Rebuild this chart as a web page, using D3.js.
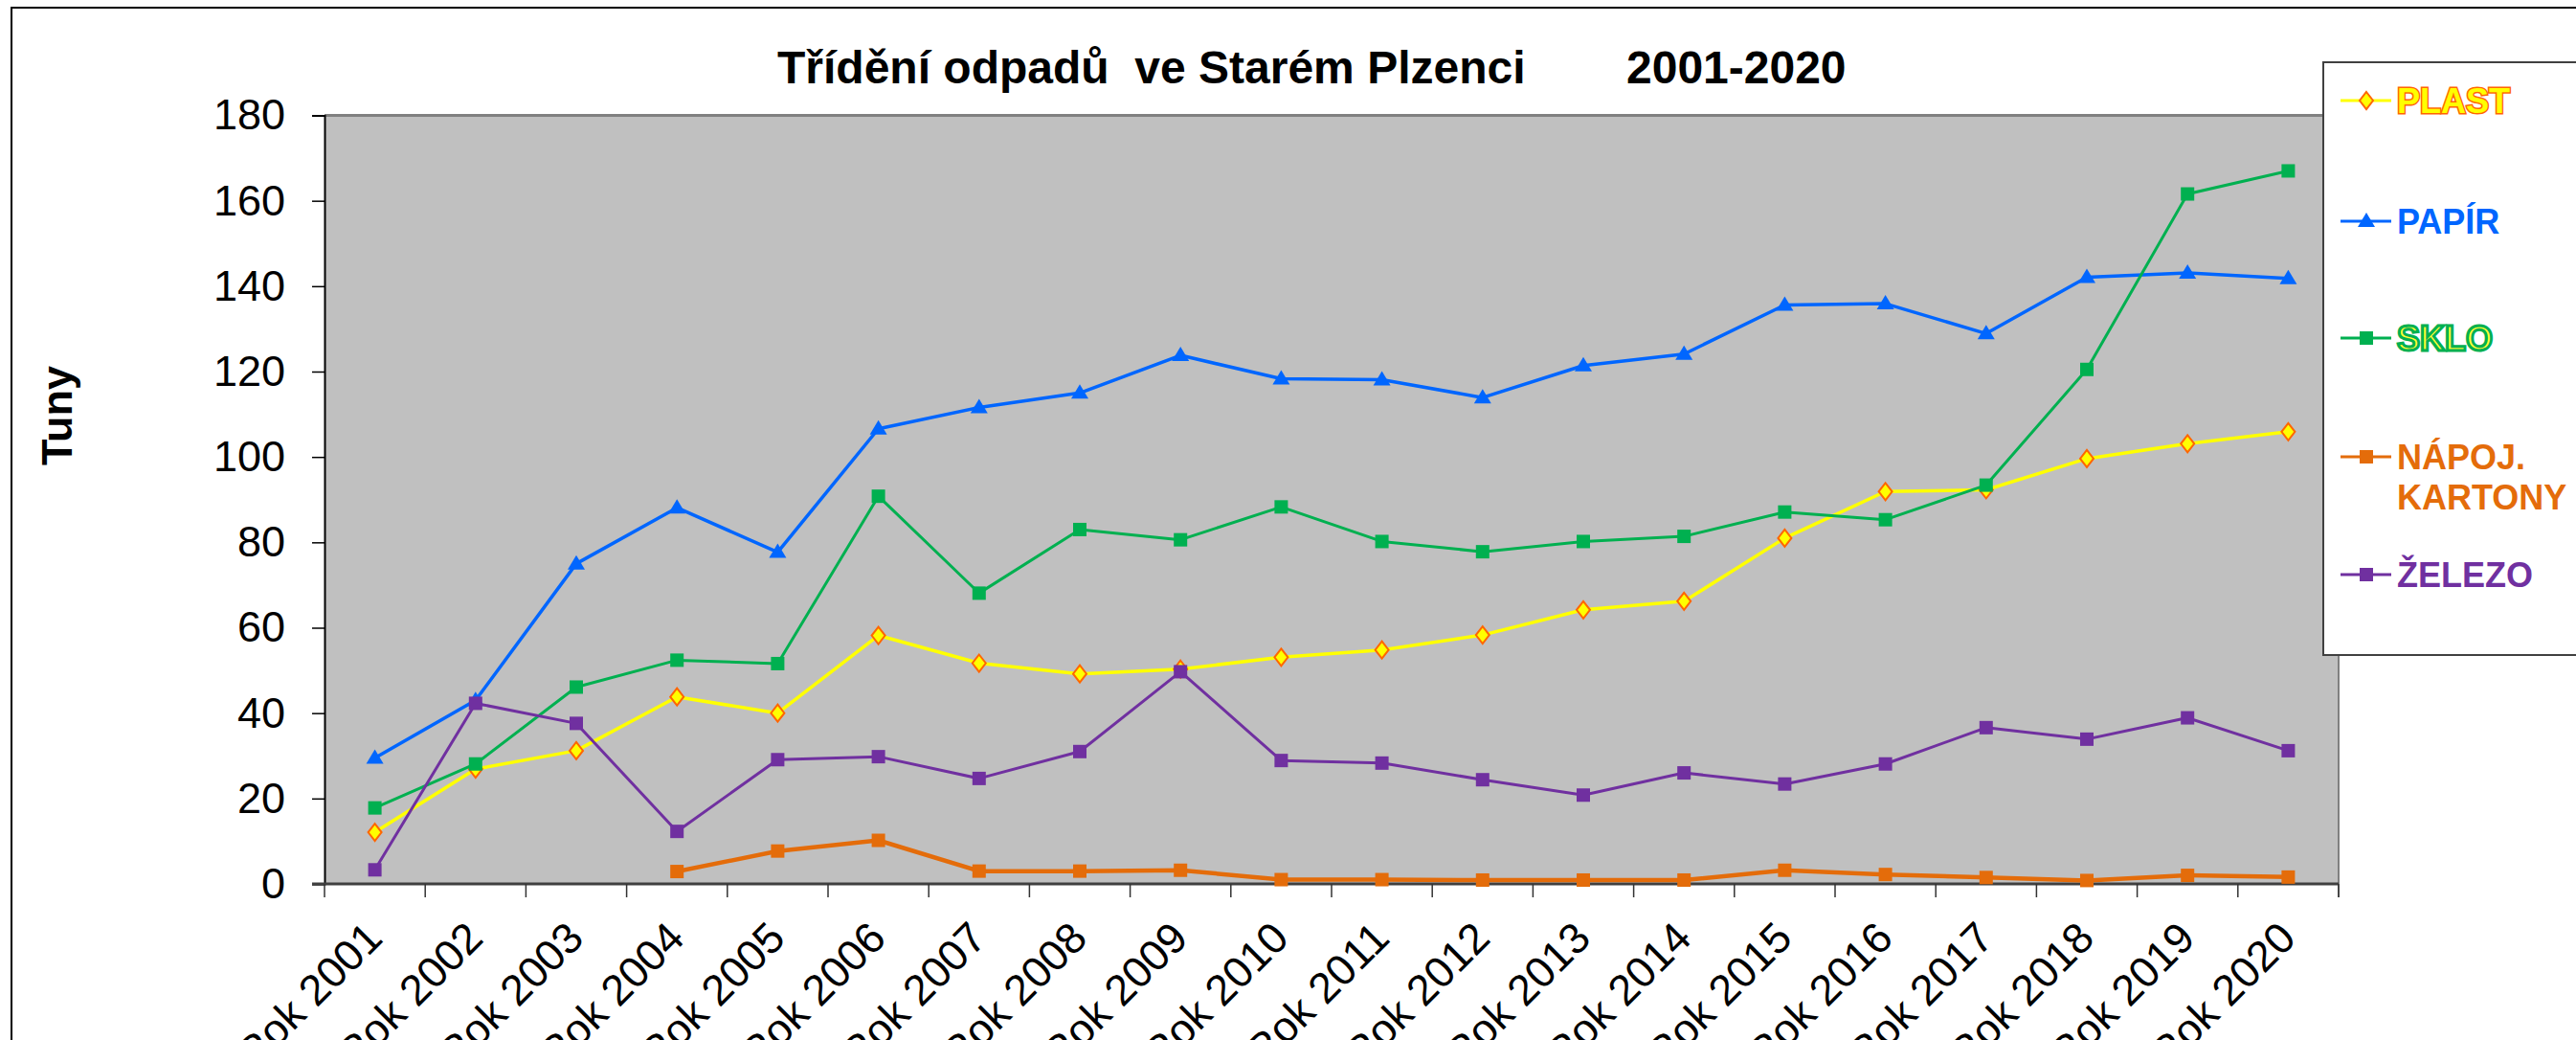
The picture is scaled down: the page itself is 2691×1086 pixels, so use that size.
<!DOCTYPE html>
<html>
<head>
<meta charset="utf-8">
<script src="https://cdn.jsdelivr.net/npm/d3@7"></script>
<style>
  body { margin: 0; background: #fff; }
  svg { display: block; }
  text { font-family: "Liberation Sans", Arial, sans-serif; }
</style>
</head>
<body>
<div id="chart"></div>
<script>
// categories
const years = ["Rok 2001", "Rok 2002", "Rok 2003", "Rok 2004", "Rok 2005",
  "Rok 2006", "Rok 2007", "Rok 2008", "Rok 2009", "Rok 2010",
  "Rok 2011", "Rok 2012", "Rok 2013", "Rok 2014", "Rok 2015",
  "Rok 2016", "Rok 2017", "Rok 2018", "Rok 2019", "Rok 2020"];

// series values (tuny)
const plast  = [12.1, 26.9, 31.2, 43.8, 40.0, 58.2, 51.7, 49.2, 50.3, 53.1,
                54.8, 58.3, 64.2, 66.2, 81.0, 91.9, 92.3, 99.6, 103.1, 105.9];
const papir  = [29.5, 43.0, 75.0, 88.1, 77.7, 106.6, 111.6, 115.0, 123.8, 118.3,
                118.1, 113.9, 121.4, 124.1, 135.6, 135.9, 128.9, 142.1, 143.1, 141.8];
const sklo   = [17.8, 28.1, 46.1, 52.4, 51.6, 90.8, 68.1, 83.0, 80.6, 88.3,
                80.2, 77.8, 80.2, 81.4, 87.1, 85.3, 93.4, 120.5, 161.6, 167.0];
const napoj  = [null, null, null, 2.9, 7.7, 10.2, 3.0, 3.0, 3.2, 1.0,
                1.0, 0.9, 0.9, 0.9, 3.2, 2.2, 1.5, 0.8, 2.0, 1.6];
const zelezo = [3.3, 42.3, 37.6, 12.3, 29.1, 29.8, 24.7, 31.0, 49.7, 28.9,
                28.3, 24.4, 20.8, 26.0, 23.4, 28.1, 36.6, 33.9, 38.9, 31.2];

const yTicks = [0, 20, 40, 60, 80, 100, 120, 140, 160, 180];

const series = [
  { name: ["PLAST"], values: plast, color: "#FFFF00", width: 3.5, marker: "diamond" },
  { name: ["PAPÍR"], values: papir, color: "#0066FF", width: 3.5, marker: "triangle" },
  { name: ["SKLO"], values: sklo, color: "#00B050", width: 3, marker: "square" },
  { name: ["NÁPOJ.", "KARTONY"], values: napoj, color: "#E46C0A", width: 4.5, marker: "square" },
  { name: ["ŽELEZO"], values: zelezo, color: "#7030A0", width: 3, marker: "square" }
];

const W = 2691, H = 1086;
const plot = { left: 339, right: 2443, top: 120.5, bottom: 923 };

const svg = d3.select("#chart").append("svg")
  .attr("width", W)
  .attr("height", H);

// outer chart frame
svg.append("rect")
  .attr("x", 12).attr("y", 8)
  .attr("width", W + 20).attr("height", H + 40)
  .attr("fill", "#fff")
  .attr("stroke", "#000")
  .attr("stroke-width", 2);

const x = d3.scaleBand()
  .domain(years)
  .range([plot.left, plot.right]);

const y = d3.scaleLinear()
  .domain([0, 180])
  .range([plot.bottom, plot.top]);

// plot area
svg.append("rect")
  .attr("x", plot.left).attr("y", plot.top)
  .attr("width", plot.right - plot.left)
  .attr("height", plot.bottom - plot.top)
  .attr("fill", "#C0C0C0");

svg.append("line")
  .attr("x1", plot.left).attr("x2", plot.right)
  .attr("y1", plot.top).attr("y2", plot.top)
  .attr("stroke", "#808080").attr("stroke-width", 3);

svg.append("line")
  .attr("x1", plot.right).attr("x2", plot.right)
  .attr("y1", plot.top).attr("y2", plot.bottom + 14)
  .attr("stroke", "#808080").attr("stroke-width", 2);

// y axis
const yAxis = svg.append("g")
  .attr("transform", `translate(${plot.left},0)`)
  .call(d3.axisLeft(y).tickValues(yTicks).tickSize(13).tickPadding(28));
yAxis.select(".domain").attr("stroke", "#000").attr("stroke-width", 2);
yAxis.selectAll(".tick line").attr("stroke", "#000").attr("stroke-width", 1.5);
yAxis.selectAll(".tick text")
  .attr("font-family", "'Liberation Sans', Arial, sans-serif")
  .attr("font-size", 45)
  .attr("fill", "#000");

// x axis: baseline, ticks between categories, rotated labels
svg.append("line")
  .attr("x1", plot.left - 13).attr("x2", plot.right)
  .attr("y1", plot.bottom).attr("y2", plot.bottom)
  .attr("stroke", "#404040").attr("stroke-width", 3);

const edges = years.map(d => x(d)).concat([x.range()[1]]);
svg.append("g").selectAll("line")
  .data(edges)
  .enter()
  .append("line")
  .attr("x1", d => d).attr("x2", d => d)
  .attr("y1", plot.bottom).attr("y2", plot.bottom + 14)
  .attr("stroke", "#333").attr("stroke-width", 1.5);

svg.append("g").selectAll("text")
  .data(years)
  .enter()
  .append("text")
  .attr("transform", d => `translate(${x(d) + x.bandwidth() / 2 + 10},982) rotate(-45)`)
  .attr("text-anchor", "end")
  .attr("font-size", 45)
  .attr("fill", "#000")
  .text(d => d);

// title
svg.append("text")
  .attr("x", 812).attr("y", 87)
  .attr("font-size", 48).attr("font-weight", "bold")
  .text("Třídění odpadů  ve Starém Plzenci")
  .attr("xml:space", "preserve")
  .style("white-space", "pre");
svg.append("text")
  .attr("x", 1699).attr("y", 87)
  .attr("font-size", 48).attr("font-weight", "bold")
  .text("2001-2020");

// y axis title
svg.append("text")
  .attr("transform", "translate(75,434) rotate(-90)")
  .attr("text-anchor", "middle")
  .attr("font-size", 45).attr("font-weight", "bold")
  .text("Tuny");

// markers
function drawMarker(g, type, color, cx, cy) {
  if (type === "diamond") {
    g.append("path")
      .attr("d", `M${cx},${cy - 9}L${cx + 7},${cy}L${cx},${cy + 9}L${cx - 7},${cy}Z`)
      .attr("fill", "#FFFF00").attr("stroke", "#FF6600").attr("stroke-width", 2);
  } else if (type === "triangle") {
    g.append("path")
      .attr("d", `M${cx},${cy - 9}L${cx + 9},${cy + 6}L${cx - 9},${cy + 6}Z`)
      .attr("fill", color);
  } else {
    g.append("rect")
      .attr("x", cx - 7).attr("y", cy - 7)
      .attr("width", 14).attr("height", 14)
      .attr("fill", color);
  }
}

const line = d3.line()
  .defined(d => d.v != null)
  .x(d => x(d.cat) + x.bandwidth() / 2)
  .y(d => y(d.v));

series.forEach(s => {
  const pts = s.values.map((v, i) => ({ cat: years[i], v: v }));
  const g = svg.append("g");
  g.append("path")
    .datum(pts)
    .attr("d", line)
    .attr("fill", "none")
    .attr("stroke", s.color)
    .attr("stroke-width", s.width)
    .attr("stroke-linejoin", "round");
  pts.filter(p => p.v != null).forEach(p => {
    drawMarker(g, s.marker, s.color, x(p.cat) + x.bandwidth() / 2, y(p.v));
  });
});

// legend
const legend = svg.append("g");
legend.append("rect")
  .attr("x", 2427).attr("y", 65)
  .attr("width", 300).attr("height", 619)
  .attr("fill", "#fff")
  .attr("stroke", "#404040")
  .attr("stroke-width", 2);

const legendY = [105, 231, 353, 477, 600];
const textStyle = [
  { fill: "#FFFF00", stroke: "#FF6600", sw: 3, order: "stroke" },
  { fill: "#0066FF", stroke: "none", sw: 0, order: "normal" },
  { fill: "#FFFF33", stroke: "#00B050", sw: 3, order: "normal" },
  { fill: "#E46C0A", stroke: "none", sw: 0, order: "normal" },
  { fill: "#7030A0", stroke: "none", sw: 0, order: "normal" }
];

series.forEach((s, i) => {
  const ly = legendY[i];
  legend.append("line")
    .attr("x1", 2445).attr("x2", 2498)
    .attr("y1", ly).attr("y2", ly)
    .attr("stroke", s.color).attr("stroke-width", 3);
  drawMarker(legend, s.marker, s.color, 2472, ly);
  const t = legend.append("text")
    .attr("x", 2504).attr("y", ly + 13)
    .attr("font-size", 36).attr("font-weight", "bold")
    .attr("fill", textStyle[i].fill)
    .attr("stroke", textStyle[i].stroke)
    .attr("stroke-width", textStyle[i].sw)
    .style("paint-order", textStyle[i].order);
  s.name.forEach((n, k) => {
    t.append("tspan")
      .attr("x", 2504)
      .attr("dy", k === 0 ? 0 : 42)
      .text(n);
  });
});
</script>
</body>
</html>
